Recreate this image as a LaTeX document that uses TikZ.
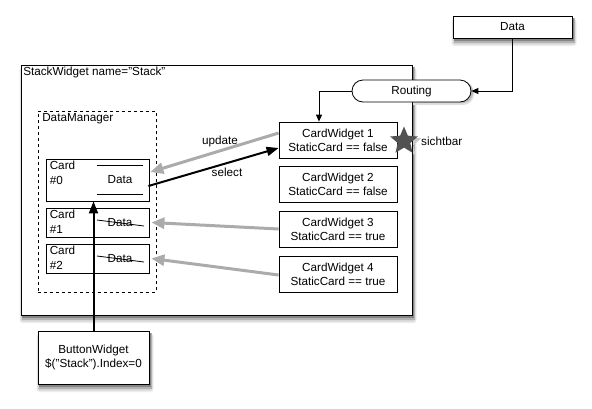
\documentclass[tikz,border=0pt]{standalone}
\usepackage{fontspec}
\setmainfont{Liberation Sans}
\usetikzlibrary{arrows.meta}
\usetikzlibrary{shapes.misc,shapes.geometric}

\begin{document}
\begin{tikzpicture}[x=1pt,y=-1pt,
			every node/.style={font=\fontsize{11.7}{14}\selectfont},
			box/.style={draw,line width=.8pt,fill=white,inner sep=0pt},
			widget/.style={box,minimum width=118pt,minimum height=36pt,align=center},
			card/.style={box,minimum width=103pt},
			lbl/.style={anchor=north west,inner sep=2.5pt,align=left},
			gray arrow/.style={-{Triangle[length=13pt,width=11pt]},line width=3pt,color=black!33},
			black arrow/.style={-{Triangle[length=12pt,width=9pt]},line width=2pt},
			thin arrow/.style={-{Triangle[length=7pt,width=6pt]},line width=.9pt}]
			\fill[white] (0,0) rectangle (592,408);
			
			% shadows
			\foreach \xa/\ya/\xb/\yb in {21/65/412/315,453/16/572/38,38/331/149/384}{
				\fill[black!7,rounded corners=3pt] (\xa-1.5,\ya+3) rectangle (\xb+4.5,\yb+8);
				\fill[black!16,rounded corners=2pt] (\xa-0.5,\ya+2.5) rectangle (\xb+3.5,\yb+6.5);
				\fill[black!30] (\xa+0.5,\ya+2) rectangle (\xb+2.5,\yb+4.8);
				\fill[black!48] (\xa+1,\ya+1.5) rectangle (\xb+1.5,\yb+3);
			}
			\fill[black!12,rounded corners=11pt] (363,82) rectangle (474,105);
			\fill[black!25,rounded corners=10pt] (363,81.5) rectangle (473,103);
			\node[star,star points=5,star point ratio=2.2,fill=black!22,minimum size=31pt,inner sep=0pt] (starshadow) at (406.5,143) {};
			
			\node[box,minimum width=391pt,minimum height=250pt] (stack) at (216.5,190) {};
			\node[lbl] (stacklbl) at (stack.north west) {StackWidget name="Stack"};
			
			\node[box,minimum width=119pt,minimum height=22pt] (data) at (512.5,27) {Data};
			\node[box,rounded rectangle,minimum width=119pt,minimum height=22pt] (routing) at (411.5,91) {Routing};
			
			% DataManager
			\node[box,dashed,minimum width=118pt,minimum height=181pt] (dm) at (97,201.5) {};
			\node[lbl,xshift=2pt] (dmlbl) at (dm.north west) {DataManager};
			
			\node[card,minimum height=42pt] (card0) at (97.5,180) {};
			\node[card,minimum height=29pt] (card1) at (97.5,222.5) {};
			\node[card,minimum height=29pt] (card2) at (97.5,258.5) {};
			\node[lbl,xshift=1.5pt,font=\fontsize{11.7}{15}\selectfont] (card0lbl) at (card0.north west) {Card\\\#0};
			\node[lbl,xshift=1.5pt,font=\fontsize{11.7}{15}\selectfont] (card1lbl) at (card1.north west) {Card\\\#1};
			\node[lbl,xshift=1.5pt,font=\fontsize{11.7}{15}\selectfont] (card2lbl) at (card2.north west) {Card\\\#2};
			
			\node (data0) at (120,180) {Data};
			\node (data1) at (120,223) {Data};
			\node (data2) at (120,259) {Data};
			\draw[line width=.8pt] (97,165) -- (143,165) (97,194) -- (143,194);
			\draw[line width=.8pt] (97,220) -- (144,226) (97,256) -- (144,262);
			
			% CardWidgets
			\node[widget] (cw1) at (338,140) {CardWidget 1\\StaticCard == false};
			\node[widget] (cw2) at (338,184.5) {CardWidget 2\\StaticCard == false};
			\node[widget] (cw3) at (338,229) {CardWidget 3\\StaticCard == true};
			\node[widget] (cw4) at (338,274) {CardWidget 4\\StaticCard == true};
			
			\node[star,star points=5,star point ratio=2.2,fill=black!68,minimum size=29pt,inner sep=0pt] (star) at (404,141) {};
			\node[anchor=west,inner sep=0pt] (sichtbar) at (421,141) {sichtbar};
			
			\node[box,minimum width=111pt,minimum height=53pt,align=center] (button) at (93.5,357.5)
			{ButtonWidget\\\$("Stack").Index=0};
			
			\draw[thin arrow] (data.south) |- (routing.east);
			\draw[thin arrow] (routing.west) -| ([xshift=-19pt]cw1.north);
			
			\draw[gray arrow] ([yshift=7pt]cw1.west) -- ([yshift=8pt,xshift=1pt]card0.east);
			\draw[black arrow] ([yshift=-6pt,xshift=-1pt]card0.east) -- ([yshift=-8pt]cw1.west);
			\draw[gray arrow] (cw3.west) -- ([xshift=2pt]card1.east);
			\draw[gray arrow] ([yshift=-1pt]cw4.west) -- ([xshift=2pt]card2.east);
			\draw[black arrow] (button.north) -- (button.north |- card0.south);
			
			\node (update) at (220,141) {update};
			\node (select) at (227,172) {select};
		\end{tikzpicture}
\end{document}
